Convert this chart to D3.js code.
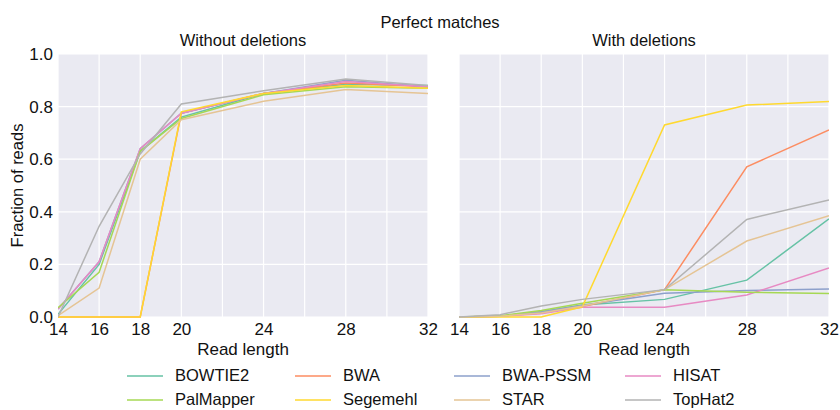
<!DOCTYPE html>
<html>
<head>
<meta charset="utf-8">
<script src="https://cdn.jsdelivr.net/npm/d3@7"></script>
<style>
  body { margin: 0; background: #fff; }
  text { font-family: "Liberation Sans", Arial, sans-serif; fill: #111; }
</style>
</head>
<body>
<script>
  var W = 840, H = 410;

  var readLengths = [14, 16, 18, 20, 24, 28, 32];
  var xTicks = [14, 16, 18, 20, 24, 28, 32];
  var xGrid = [14, 16, 18, 20, 22, 24, 26, 28, 30, 32];
  var yTicks = [0, 0.2, 0.4, 0.6, 0.8, 1.0];

  var tools = ["BOWTIE2", "BWA", "BWA-PSSM", "HISAT", "PalMapper", "Segemehl", "STAR", "TopHat2"];
  var colors = ["#66c2a5", "#fc8d62", "#8da0cb", "#e78ac3", "#a6d854", "#ffd92f", "#e5c494", "#b3b3b3"];

  // Without deletions
  var noDel = [
    [0.01, 0.2, 0.63, 0.76, 0.85, 0.885, 0.88],
    [0, 0, 0, 0.775, 0.85, 0.89, 0.875],
    [0.03, 0.21, 0.64, 0.775, 0.85, 0.9, 0.875],
    [0.03, 0.21, 0.64, 0.775, 0.85, 0.895, 0.875],
    [0.035, 0.17, 0.63, 0.755, 0.845, 0.875, 0.87],
    [0, 0, 0, 0.78, 0.85, 0.88, 0.87],
    [0.005, 0.11, 0.6, 0.75, 0.82, 0.865, 0.85],
    [0, 0.345, 0.62, 0.81, 0.86, 0.905, 0.88]
  ];

  // With deletions
  var withDel = [
    [0, 0.003, 0.02, 0.046, 0.067, 0.14, 0.373],
    [0, 0.003, 0.015, 0.04, 0.104, 0.571, 0.711],
    [0, 0.003, 0.02, 0.045, 0.09, 0.101, 0.106],
    [0, 0.003, 0.012, 0.037, 0.037, 0.084, 0.186],
    [0, 0.005, 0.025, 0.052, 0.104, 0.094, 0.089],
    [0, 0, 0, 0.039, 0.73, 0.806, 0.819],
    [0, 0.003, 0.015, 0.042, 0.104, 0.289, 0.385],
    [0, 0.009, 0.042, 0.067, 0.104, 0.371, 0.445]
  ];

  var svg = d3.select("body").append("svg")
    .attr("width", W).attr("height", H);

  svg.append("text")
    .attr("x", 440).attr("y", 28)
    .attr("text-anchor", "middle")
    .style("font-size", "16.5px")
    .text("Perfect matches");

  var plotTop = 54, plotBottom = 317;
  var y = d3.scaleLinear().domain([0, 1]).range([plotBottom, plotTop]);

  var panels = [
    { left: 58, right: 428, title: "Without deletions", data: noDel, yLabels: true },
    { left: 459, right: 829, title: "With deletions", data: withDel, yLabels: false }
  ];

  panels.forEach(function(p, pi) {
    var x = d3.scaleLinear().domain([14, 32]).range([p.left, p.right]);
    var g = svg.append("g");

    g.append("rect")
      .attr("x", p.left).attr("y", plotTop)
      .attr("width", p.right - p.left).attr("height", plotBottom - plotTop)
      .attr("fill", "#eaeaf2");

    // grid
    g.selectAll(".vg").data(xGrid).enter().append("line")
      .attr("x1", function(d) { return x(d); }).attr("x2", function(d) { return x(d); })
      .attr("y1", plotTop).attr("y2", plotBottom)
      .attr("stroke", "#fff").attr("stroke-width", 1.2);
    g.selectAll(".hg").data(yTicks).enter().append("line")
      .attr("x1", p.left).attr("x2", p.right)
      .attr("y1", function(d) { return y(d); }).attr("y2", function(d) { return y(d); })
      .attr("stroke", "#fff").attr("stroke-width", 1.2);

    var clipId = "clip" + pi;
    svg.append("clipPath").attr("id", clipId).append("rect")
      .attr("x", p.left).attr("y", plotTop - 2)
      .attr("width", p.right - p.left).attr("height", plotBottom - plotTop + 4);

    var line = d3.line()
      .x(function(d, i) { return x(readLengths[i]); })
      .y(function(d) { return y(d); });

    g.append("g").attr("clip-path", "url(#" + clipId + ")")
      .selectAll("path").data(p.data).enter().append("path")
      .attr("d", function(d) { return line(d); })
      .attr("fill", "none")
      .attr("stroke", function(d, i) { return colors[i]; })
      .attr("stroke-width", 1.5);

    // x axis
    var xAxis = d3.axisBottom(x).tickValues(xTicks).tickSize(0).tickPadding(6)
      .tickFormat(d3.format("d"));
    var xa = g.append("g").attr("transform", "translate(0," + plotBottom + ")").call(xAxis);
    xa.select(".domain").remove();
    xa.selectAll("text").style("font-size", "17px").style("font-family", "Liberation Sans, Arial, sans-serif").attr("fill", "#111");

    g.append("text")
      .attr("x", (p.left + p.right) / 2).attr("y", 355)
      .attr("text-anchor", "middle")
      .style("font-size", "17px")
      .text("Read length");

    g.append("text")
      .attr("x", (p.left + p.right) / 2).attr("y", 46)
      .attr("text-anchor", "middle")
      .style("font-size", "16.5px")
      .text(p.title);

    if (p.yLabels) {
      var yAxis = d3.axisLeft(y).tickValues(yTicks).tickSize(0).tickPadding(5)
        .tickFormat(d3.format(".1f"));
      var ya = g.append("g").attr("transform", "translate(" + p.left + ",0)").call(yAxis);
      ya.select(".domain").remove();
      ya.selectAll("text").style("font-size", "17px").style("font-family", "Liberation Sans, Arial, sans-serif").attr("fill", "#111");

      g.append("text")
        .attr("transform", "translate(23," + ((plotTop + plotBottom) / 2) + ") rotate(-90)")
        .attr("text-anchor", "middle")
        .style("font-size", "16.5px")
        .text("Fraction of reads");
    }
  });

  // legend
  var colX = [127, 295, 454, 625];
  var rowY = [376, 400];
  var leg = svg.append("g").selectAll("g").data(tools).enter().append("g")
    .attr("transform", function(d, i) {
      return "translate(" + colX[i % 4] + "," + rowY[Math.floor(i / 4)] + ")";
    });
  leg.append("line")
    .attr("x1", 0).attr("x2", 36).attr("y1", 0).attr("y2", 0)
    .attr("stroke", function(d, i) { return colors[i]; })
    .attr("stroke-width", 1.5);
  leg.append("text")
    .attr("x", 48).attr("y", 5)
    .style("font-size", "16.5px")
    .text(function(d) { return d; });
</script>
</body>
</html>
